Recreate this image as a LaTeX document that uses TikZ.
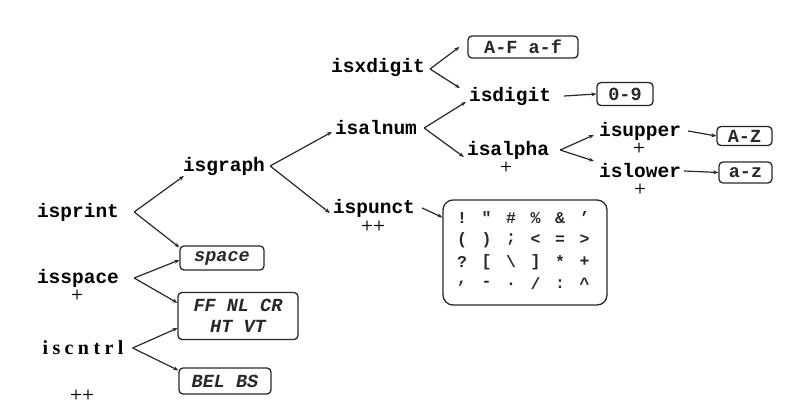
\documentclass[tikz,border=0pt]{standalone}
\usepackage{fontspec}
\setmainfont{Liberation Serif}
\newfontfamily\monob{Liberation Mono}[BoldFont={* Bold},BoldItalicFont={* Bold Italic}]
\newfontfamily\serifsp{Liberation Serif}[LetterSpace=22]
\usetikzlibrary{arrows.meta}
\definecolor{ink}{RGB}{40,40,40}
\tikzset{
  lab/.style={font=\fontsize{19.5}{22}\selectfont\monob\bfseries, inner sep=1pt, text=black},
  cntrl/.style={font=\fontsize{20}{22}\selectfont\serifsp\bfseries, inner sep=1pt},
  cbox/.style={draw=ink, line width=1.3pt, rounded corners=4pt, inner sep=0pt,
     font=\fontsize{18.5}{21}\selectfont\monob\bfseries, text=ink},
  ibox/.style={cbox, font=\fontsize{18.5}{21}\selectfont\monob\bfseries\itshape},
  arr/.style={draw=ink, line width=1.2pt, -{Stealth[length=5pt,width=4pt]}},
  plus/.style={font=\fontsize{14}{14}\selectfont\sffamily\bfseries, inner sep=0pt, text=black},
  pch/.style={font=\fontsize{16.5}{17}\selectfont\monob\bfseries, text=ink, inner sep=0pt}
}
\begin{document}
\begin{tikzpicture}[x=1pt,y=-1pt]
\useasboundingbox (0,0) rectangle (797,410);
% labels
\node[lab] (isprint) at (78,212) {isprint};
\node[lab] (isspace) at (78,278) {isspace};
\node[cntrl] (iscntrl) at (83,348) {iscntrl};
\node[lab] (isgraph) at (224,166) {isgraph};
\node[lab] (isalnum) at (376,128) {isalnum};
\node[lab] (ispunct) at (374,208) {ispunct};
\node[lab] (isxdigit) at (378,67) {isxdigit};
\node[lab] (isdigit) at (510,96) {isdigit};
\node[lab] (isalpha) at (508,150) {isalpha};
\node[lab] (isupper) at (640,131) {isupper};
\node[lab] (islower) at (640,171) {islower};
% plus marks
\node[plus] (p1) at (77,295) {+};
\node[plus] (p2) at (82,395) {++};
\node[plus] (p3) at (373,226) {++};
\node[plus] (p4) at (506,167) {+};
\node[plus] (p5) at (639,148) {+};
\node[plus] (p6) at (640,189) {+};
% boxes
\node[ibox, minimum width=84pt, minimum height=24pt] (space) at (222,258) {space};
\node[ibox, minimum width=120pt, minimum height=47pt, align=center] (ffbox) at (238,316) {FF NL CR\\HT VT};
\node[ibox, minimum width=92pt, minimum height=26pt] (bel) at (225,381) {BEL BS};
\node[cbox, minimum width=110pt, minimum height=22pt] (af) at (523,47) {A-F a-f};
\node[cbox, minimum width=56pt, minimum height=23pt] (d09) at (625,94) {0-9};
\node[cbox, minimum width=55pt, minimum height=19pt] (AZ) at (744.5,136) {A-Z};
\node[cbox, minimum width=53pt, minimum height=21pt] (az) at (745.5,172.5) {a-z};
\node[cbox, rounded corners=10pt, minimum width=164pt, minimum height=105pt] (punct) at (525,252.5) {};
% punctuation grid
\node[pch] (pa0) at (462,218) {!};
\node[pch] (pa1) at (486.5,218) {"};
\node[pch] (pa2) at (511,218) {\#};
\node[pch] (pa3) at (535.5,218) {\%};
\node[pch] (pa4) at (560,218) {\&};
\node[pch] (pa5) at (584.5,218) {’};
\node[pch] (pb0) at (462,240) {(};
\node[pch] (pb1) at (486.5,240) {)};
\node[pch] (pb2) at (511,240) {;};
\node[pch] (pb3) at (535.5,240) {<};
\node[pch] (pb4) at (560,240) {=};
\node[pch] (pb5) at (584.5,240) {>};
\node[pch] (pc0) at (462,262) {?};
\node[pch] (pc1) at (486.5,262) {[};
\node[pch] (pc2) at (511,262) {\textbackslash};
\node[pch] (pc3) at (535.5,262) {]};
\node[pch] (pc4) at (560,262) {*};
\node[pch] (pc5) at (584.5,262) {+};
\node[pch] (pd0) at (462,284) {,};
\node[pch] (pd1) at (486.5,284) {-};
\node[pch] (pd2) at (511,284) {.};
\node[pch] (pd3) at (535.5,284) {/};
\node[pch] (pd4) at (560,284) {:};
\node[pch] (pd5) at (584.5,284) {\textasciicircum};
% connectors
\coordinate (vprint) at ([xshift=14pt]isprint.east);
\draw[arr] (vprint) -- ([xshift=2pt,yshift=-10pt]isgraph.west);
\draw[arr] (vprint) -- ([yshift=-2pt]space.north west);
\coordinate (vspace) at ([xshift=14pt]isspace.east);
\draw[arr] (vspace) -- ([yshift=-2pt]space.west);
\draw[arr] (vspace) -- ([yshift=-11pt]ffbox.north west);
\coordinate (vcntrl) at ([xshift=8pt]iscntrl.east);
\draw[arr] (vcntrl) -- ([yshift=12pt]ffbox.south west);
\draw[arr] (vcntrl) -- ([yshift=-3pt]bel.north west);
\coordinate (vgraph) at ([xshift=4pt]isgraph.east);
\draw[arr] (vgraph) -- ([xshift=-2pt,yshift=-4pt]isalnum.west);
\draw[arr] (vgraph) -- ([xshift=-2pt,yshift=-5pt]ispunct.west);
\coordinate (vxdig) at ([xshift=4pt,yshift=-2pt]isxdigit.east);
\draw[arr] (vxdig) -- ([xshift=-8pt]af.west);
\draw[arr] (vxdig) -- ([xshift=-8pt,yshift=8pt]isdigit.west);
\coordinate (valnum) at ([xshift=6pt]isalnum.east);
\draw[arr] (valnum) -- ([xshift=-2pt,yshift=-6pt]isdigit.west);
\draw[arr] (valnum) -- ([xshift=-2pt,yshift=-7pt]isalpha.west);
\coordinate (valpha) at ([xshift=10pt]isalpha.east);
\draw[arr] (valpha) -- ([xshift=-4pt,yshift=-4pt]isupper.west);
\draw[arr] (valpha) -- ([xshift=-4pt,yshift=10pt]islower.west);
\draw[arr] ([xshift=12pt]isdigit.east) -- (d09.west);
\draw[arr] ([xshift=6pt]isupper.east) -- (AZ.west);
\draw[arr] ([xshift=2pt]islower.east) -- (az.west);
\draw[arr] ([xshift=6pt]ispunct.east) -- ([yshift=-18pt]punct.north west);
\end{tikzpicture}
\end{document}
